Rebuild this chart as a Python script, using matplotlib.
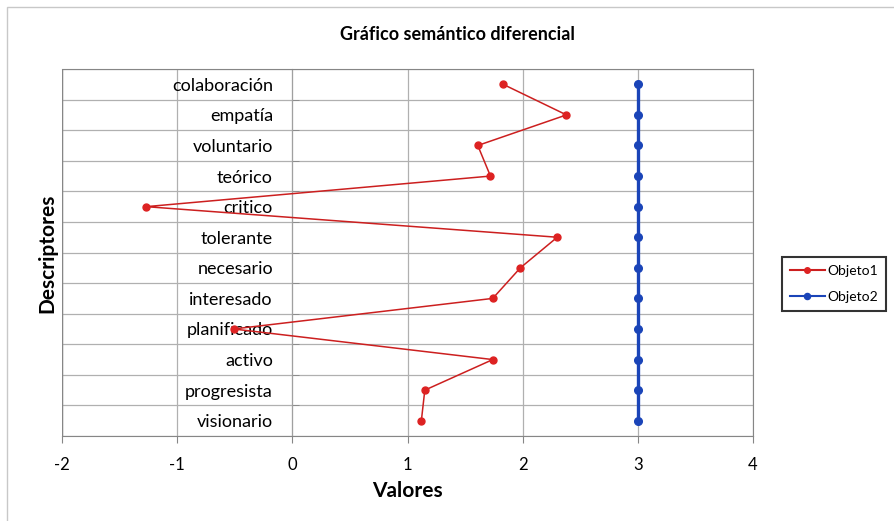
import matplotlib.pyplot as plt
from matplotlib.patches import Rectangle

plt.rcParams['font.family'] = ['Lato', 'DejaVu Sans']

# descriptores, de arriba hacia abajo
descriptores = ['colaboración', 'empatía', 'voluntario', 'teórico', 'critico',
                'tolerante', 'necesario', 'interesado', 'planificado', 'activo',
                'progresista', 'visionario']
objeto1 = [1.83, 2.38, 1.61, 1.72, -1.27, 2.30, 1.98, 1.74, -0.51, 1.74, 1.15, 1.12]
objeto2 = [3, 3, 3, 3, 3, 3, 3, 3, 3, 3, 3, 3]
valores_ticks = [-2, -1, 0, 1, 2, 3, 4]

n = len(descriptores)
pos = [n - 1 - i for i in range(n)]

fig = plt.figure(figsize=(8.94, 5.21), dpi=100)
ax = fig.add_axes([0.0694, 0.1631, 0.7729, 0.7044])

# marco del gráfico
fig.patches.append(Rectangle((7 / 894, -0.05), 1.0, 1 - 7 / 521 + 0.05,
                             transform=fig.transFigure, fill=False,
                             edgecolor='#c8c8c8', linewidth=1.0))

ax.plot(objeto1, pos, color='#cc1f1f', linewidth=1.1, marker='o',
        markersize=5, markerfacecolor='#dd2222', markeredgecolor='#dd2222',
        label='Objeto1', zorder=4)
ax.plot(objeto2, pos, color='#1a44b8', linewidth=2.4, marker='o',
        markersize=5.5, label='Objeto2', zorder=3)

ax.set_xlim(-2, 4)
ax.set_ylim(-0.5, n - 0.5)
ax.set_xticks(valores_ticks)
ax.set_xticklabels([str(v) for v in valores_ticks], fontsize=12)
ax.tick_params(axis='x', direction='out', length=5, color='#868686', pad=10)

# eje de categorías sobre x = 0
ax.spines['left'].set_position(('data', 0))
ax.spines['left'].set_color('#a0a0a0')
ax.set_yticks(pos)
ax.set_yticklabels(descriptores, fontsize=13)
ax.set_yticks([p + 0.5 for p in range(-1, n)], minor=True)
ax.tick_params(axis='y', which='major', length=0, pad=14)
ax.tick_params(axis='y', which='minor', direction='in', length=5, color='#868686')

for s in ['top', 'right', 'bottom']:
    ax.spines[s].set_color('#868686')

ax.grid(True, axis='x', color='#b0b0b0', linewidth=0.9)
ax.grid(True, axis='y', which='minor', color='#b0b0b0', linewidth=0.9)
ax.set_axisbelow(True)

# línea del borde izquierdo
ax.axvline(-2, color='#868686', linewidth=1.0)

fig.text(457 / 894, 1 - 35 / 521, 'Gráfico semántico diferencial',
         ha='center', va='center', fontsize=13, fontweight='bold')
ax.set_xlabel('Valores', fontsize=15, fontweight='bold', labelpad=6)
fig.text(47 / 894, 1 - 253 / 521, 'Descriptores', rotation=90,
         ha='center', va='center', fontsize=15, fontweight='bold')

leg = ax.legend(loc='center', bbox_to_anchor=(834 / 894, 1 - 284 / 521),
                bbox_transform=fig.transFigure, frameon=True, fancybox=False,
                fontsize=10, handlelength=2.5, borderpad=0.6, labelspacing=1.0,
                handletextpad=0.2, markerscale=0.8)
leg.get_frame().set_edgecolor('black')
leg.get_frame().set_linewidth(1.5)
for h in leg.get_lines():
    h.set_linewidth(1.5)

fig.savefig('out.png', dpi=100)
